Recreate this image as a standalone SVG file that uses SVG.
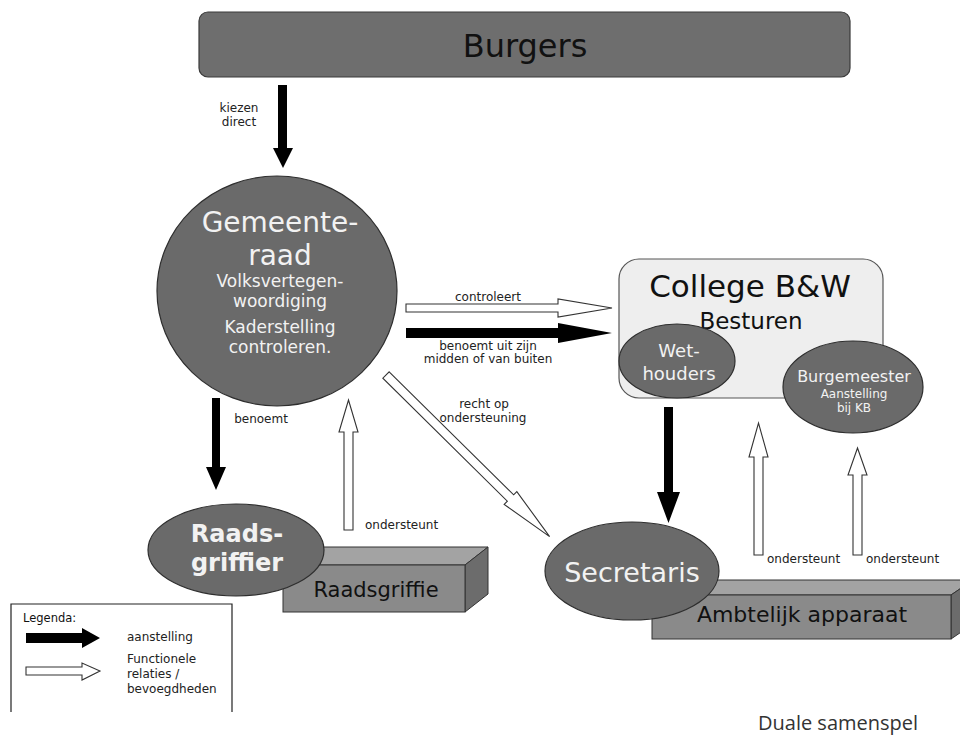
<svg xmlns="http://www.w3.org/2000/svg" width="960" height="739" viewBox="0 0 960 739">
<style>
text{font-family:"DejaVu Sans","Liberation Sans",sans-serif;}
.node{fill:#6a6a6a;stroke:#2e2e2e;stroke-width:1.2;}
.wt{fill:#f2f2f2;text-anchor:middle;}
.bk{fill:#111;}
.mid{text-anchor:middle;}
.lbl{font-size:12px;fill:#222;}
.solid{fill:#000;stroke:none;}
.hollow{fill:#fff;stroke:#333;stroke-width:1.1;stroke-linejoin:miter;}
.front{fill:#8a8a8a;stroke:#333;stroke-width:1;}
.top{fill:#a3a3a3;stroke:#333;stroke-width:1;}
.side{fill:#6c6c6c;stroke:#333;stroke-width:1;}
</style>
<rect width="960" height="739" fill="#fff"/>

<g id="burgers">
<rect x="199" y="12" width="651" height="65" rx="9" fill="#6e6e6e" stroke="#3a3a3a" stroke-width="1.2"/>
<text x="525" y="57" font-size="32" class="bk mid">Burgers</text>
</g>

<g id="gemeenteraad">
<ellipse cx="277" cy="291" rx="120" ry="115" class="node"/>
<text x="280" y="232" font-size="28" class="wt">Gemeente-</text>
<text x="280" y="265" font-size="28" class="wt">raad</text>
<text x="280" y="287" font-size="17" class="wt">Volksvertegen-</text>
<text x="280" y="307" font-size="17" class="wt">woordiging</text>
<text x="280" y="333" font-size="17" class="wt">Kaderstelling</text>
<text x="280" y="353" font-size="17" class="wt">controleren.</text>
</g>

<g id="college">
<rect x="619" y="259" width="264" height="139" rx="20" fill="#eeeeee" stroke="#555" stroke-width="1.2"/>
<text x="750" y="297" font-size="31" class="bk mid">College B&amp;W</text>
<text x="751" y="329" font-size="23" class="bk mid">Besturen</text>
</g>

<g id="wethouders">
<ellipse cx="677" cy="361" rx="58" ry="37" class="node"/>
<text x="679" y="357" font-size="18" class="wt">Wet-</text>
<text x="679" y="380" font-size="18" class="wt">houders</text>
</g>

<g id="burgemeester">
<ellipse cx="853" cy="387" rx="70" ry="46" class="node"/>
<text x="854" y="382" font-size="16" class="wt">Burgemeester</text>
<text x="854" y="398" font-size="12" class="wt">Aanstelling</text>
<text x="854" y="412" font-size="12" class="wt">bij KB</text>
</g>

<g id="raadsgriffie">
<polygon points="283,565 306,547 488,547 465,565" class="top"/>
<polygon points="465,565 488,547 488,594 465,612" class="side"/>
<rect x="283" y="565" width="182" height="47" class="front"/>
<text x="376" y="597" font-size="21" class="bk mid">Raadsgriffie</text>
</g>

<g id="raadsgriffier">
<ellipse cx="236" cy="550" rx="88" ry="46" class="node"/>
<text x="237" y="542" font-size="24" font-weight="bold" class="wt">Raads-</text>
<text x="237" y="571" font-size="24" font-weight="bold" class="wt">griffier</text>
</g>

<g id="ambtelijk-apparaat">
<polygon points="652,595 674,580 973,580 951,595" class="top"/>
<polygon points="951,595 973,580 973,624 951,639" class="side"/>
<rect x="652" y="595" width="299" height="44" class="front"/>
<text x="802" y="622" font-size="22" class="bk mid">Ambtelijk apparaat</text>
</g>

<g id="secretaris">
<ellipse cx="632" cy="571" rx="87" ry="49" class="node"/>
<text x="632" y="582" font-size="27" class="wt">Secretaris</text>
</g>

<g id="connectors">
<polygon class="solid" points="278,85 287,85 287,148 293,148 283,168 273,148 278,148"/>
<text x="239" y="112" class="lbl mid" font-size="11.5">kiezen</text>
<text x="239" y="126" class="lbl mid" font-size="11.5">direct</text>

<polygon class="hollow" points="406,304 558,304 558,299 612,308 558,317 558,312 406,312"/>
<text x="488" y="301" class="lbl mid">controleert</text>

<polygon class="solid" points="406,328 558,328 558,323 612,333 558,343 558,338 406,338"/>
<text x="488" y="350" class="lbl mid">benoemt uit zijn</text>
<text x="488" y="363" class="lbl mid">midden of van buiten</text>

<polygon class="hollow" transform="translate(386,375) rotate(44.65)" points="0,-4.5 175,-4.5 175,-9 230,0 175,9 175,4.5 0,4.5"/>
<text x="484" y="408" class="lbl mid">recht op</text>
<text x="483" y="422" class="lbl mid">ondersteuning</text>

<polygon class="solid" points="212,398 220,398 220,467 226,467 216,490 206,467 212,467"/>
<text x="261" y="423" class="lbl mid">benoemt</text>

<polygon class="hollow" points="344,530 353,530 353,432 358,432 348.5,400 339,432 344,432"/>
<text x="365" y="529" class="lbl">ondersteunt</text>

<polygon class="solid" points="664,407 673,407 673,492 680,492 668.5,523 657,492 664,492"/>

<polygon class="hollow" points="754,555 763,555 763,457 768,457 758.5,423 749,457 754,457"/>
<text x="767" y="563" class="lbl">ondersteunt</text>
<polygon class="hollow" points="853,555 862,555 862,475 867,475 857.5,448 848,475 853,475"/>
<text x="866" y="563" class="lbl">ondersteunt</text>
</g>

<g id="legenda">
<path d="M11,712 V604 H232 V712" fill="none" stroke="#222" stroke-width="1.2"/>
<text x="23" y="622" font-size="11.5" class="bk">Legenda:</text>
<polygon class="solid" points="26,633 82,633 82,628 100,638 82,648 82,643 26,643"/>
<text x="127" y="641" class="lbl">aanstelling</text>
<polygon class="hollow" points="26,667 82,667 82,663 100,671 82,680 82,675 26,675"/>
<text x="127" y="663" class="lbl">Functionele</text>
<text x="127" y="678" class="lbl">relaties /</text>
<text x="127" y="693" class="lbl">bevoegdheden</text>
</g>

<g id="caption">
<text x="758" y="730" font-size="20" fill="#333" style="font-family:'Open Sans','Noto Sans',sans-serif">Duale samenspel</text>
</g>
</svg>
